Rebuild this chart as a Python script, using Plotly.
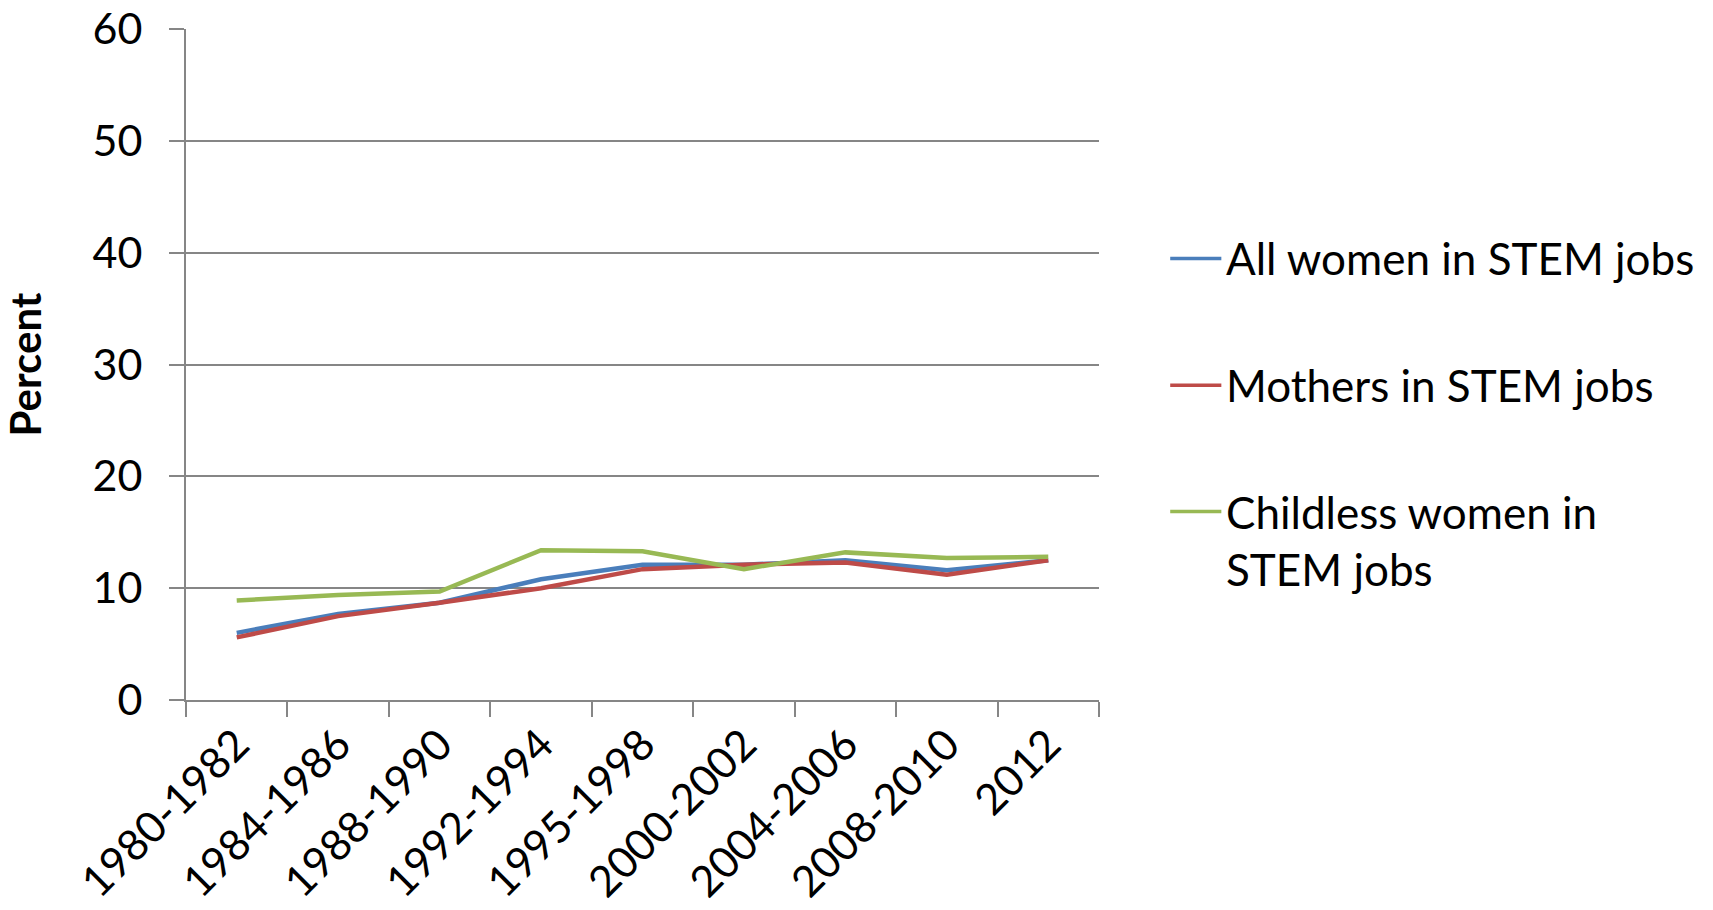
import plotly.graph_objects as go

# Share of women in STEM jobs by period
periods = ["1980-1982", "1984-1986", "1988-1990", "1992-1994", "1995-1998",
           "2000-2002", "2004-2006", "2008-2010", "2012"]
all_women = [6.0, 7.7, 8.7, 10.8, 12.1, 12.1, 12.5, 11.6, 12.5]
mothers = [5.6, 7.5, 8.7, 10.0, 11.7, 12.1, 12.3, 11.2, 12.5]
childless = [8.9, 9.4, 9.7, 13.4, 13.3, 11.7, 13.2, 12.7, 12.8]

series_names = ["All women in STEM jobs", "Mothers in STEM jobs",
                "Childless women in<br>STEM jobs"]
series_colors = ["#4A7EBB", "#BE4B48", "#98B954"]
series_values = [all_women, mothers, childless]

FONT = "Lato, Calibri, Arial, sans-serif"
GRID = "#868686"

fig = go.Figure()
for name, color, vals in zip(series_names, series_colors, series_values):
    fig.add_trace(go.Scatter(
        x=periods, y=vals, name=name, mode="lines",
        line=dict(color=color, width=4.5),
        showlegend=False,
    ))

# Key on the right: a short coloured stroke followed by the series name
key_rows = [0.658, 0.469, 0.281]       # vertical position of each stroke (paper units)
key_text_y = [0.658, 0.469, 0.237]     # vertical centre of each name block
for name, color, ys, yt in zip(series_names, series_colors, key_rows, key_text_y):
    fig.add_shape(type="line", xref="paper", yref="paper",
                  x0=1.078, x1=1.134, y0=ys, y1=ys,
                  line=dict(color=color, width=3.5))
    fig.add_annotation(xref="paper", yref="paper", x=1.137, y=yt,
                       xanchor="left", yanchor="middle", align="left",
                       text=name, showarrow=False,
                       font=dict(family=FONT, size=44, color="black"))

fig.update_layout(
    width=1713, height=910,
    margin=dict(l=186, r=614, t=29, b=210),
    paper_bgcolor="white", plot_bgcolor="white",
    font=dict(family=FONT, size=43, color="black"),
    showlegend=False,
    xaxis=dict(
        type="category", automargin=False,
        showline=True, linecolor=GRID, linewidth=2,
        ticks="outside", tickson="boundaries", ticklen=15,
        tickcolor=GRID, tickwidth=2,
        tickangle=-45, showgrid=False,
        tickfont=dict(family=FONT, size=43, color="black"),
        range=[-0.5, len(periods) - 0.5],
    ),
    yaxis=dict(
        range=[0, 60], dtick=10, tick0=0, automargin=False,
        showline=True, linecolor=GRID, linewidth=2,
        showgrid=True, gridcolor=GRID, gridwidth=2,
        ticks="outside", ticklen=15, tickcolor=GRID, tickwidth=2,
        ticklabelstandoff=18,
        zeroline=False,
        tickfont=dict(family=FONT, size=43, color="black"),
        title=dict(text="<b>Percent</b>", standoff=40,
                   font=dict(family=FONT, size=42, color="black")),
    ),
)

fig.write_html("out.html")
